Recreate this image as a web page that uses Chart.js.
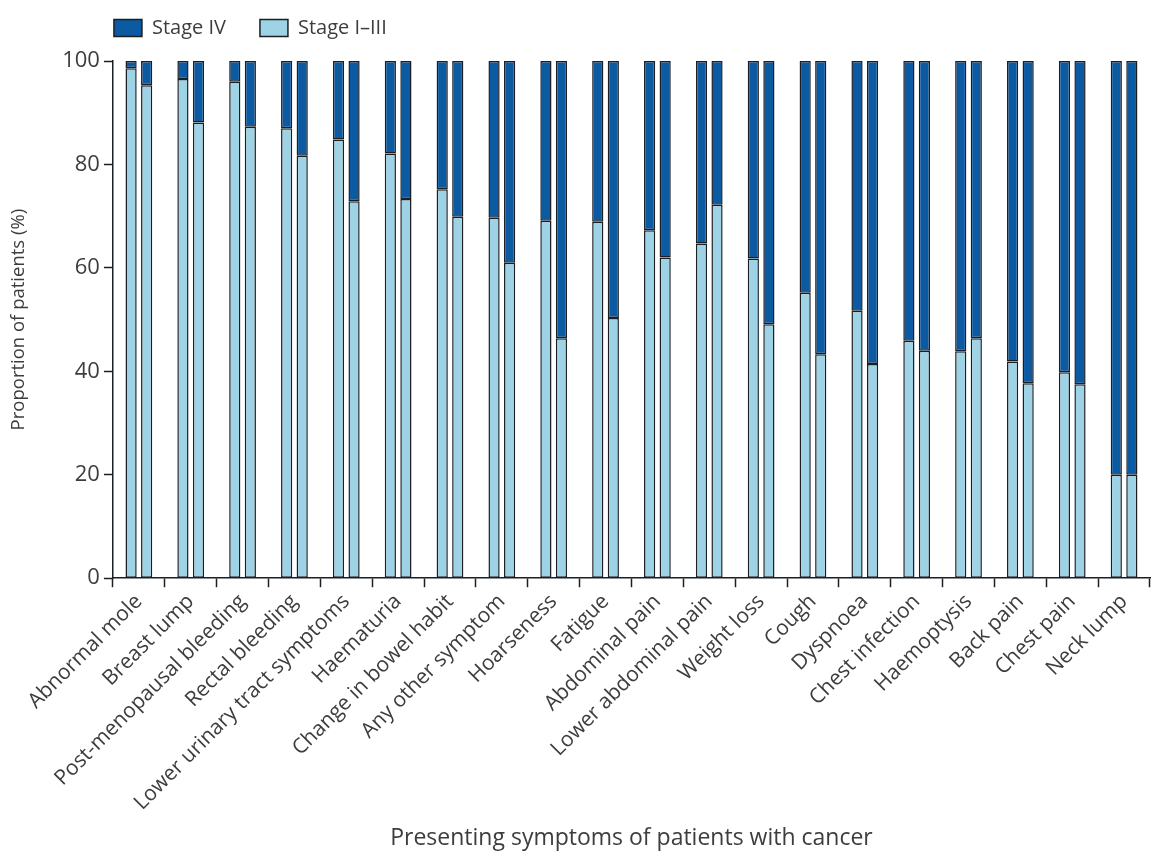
<!DOCTYPE html>
<html>
<head>
<meta charset="utf-8">
<script src="https://cdn.jsdelivr.net/npm/chart.js@4"></script>
<style>
  html, body { margin: 0; padding: 0; background: #fff; }
  #wrap { width: 1157px; height: 853px; }
</style>
</head>
<body>
<div id="wrap"><canvas id="stageChart"></canvas></div>
<script>
// Data (two bars per symptom)
const symptoms = ['Abnormal mole', 'Breast lump', 'Post-menopausal bleeding', 'Rectal bleeding',
    'Lower urinary tract symptoms', 'Haematuria', 'Change in bowel habit', 'Any other symptom',
    'Hoarseness', 'Fatigue', 'Abdominal pain', 'Lower abdominal pain', 'Weight loss', 'Cough',
    'Dyspnoea', 'Chest infection', 'Haemoptysis', 'Back pain', 'Chest pain', 'Neck lump'];

const earlyFirst = [98.6, 96.5, 96.0, 87.0, 84.8, 82.1, 75.2, 69.7, 69.1, 68.9, 67.3, 64.7, 61.8, 55.2, 51.7, 45.9, 43.9, 41.9, 39.8, 20.0];
const lateFirst  = [1.4, 3.5, 4.0, 13.0, 15.2, 17.9, 24.8, 30.3, 30.9, 31.1, 32.7, 35.3, 38.2, 44.8, 48.3, 54.1, 56.1, 58.1, 60.2, 80.0];
const earlySecond = [95.3, 88.1, 87.3, 81.7, 72.9, 73.3, 69.9, 61.0, 46.4, 50.3, 62.0, 72.2, 49.1, 43.3, 41.4, 44.0, 46.4, 37.7, 37.5, 20.0];
const lateSecond  = [4.7, 11.9, 12.7, 18.3, 27.1, 26.7, 30.1, 39.0, 53.6, 49.7, 38.0, 27.8, 50.9, 56.7, 58.6, 56.0, 53.6, 62.3, 62.5, 80.0];

const yTicks = [0, 20, 40, 60, 80, 100];

const darkBlue = '#0c5aa2';
const lightBlue = '#9ed3e5';
const edge = '#1b1f24';
const textCol = '#3d3d3d';
const fontFam = '"Open Sans", "Noto Sans", sans-serif';
const legendPad = 34;

function barSet(label, data, color, stack) {
    return {
        label, data, stack,
        backgroundColor: color,
        borderColor: edge,
        borderWidth: 1.5,
        borderSkipped: false,
        barPercentage: 0.72,
        categoryPercentage: 0.6
    };
}

// wide gap between legend items, legend kept at the top-left of the axis
const legendTweak = {
    id: 'legendTweak',
    beforeInit(chart) {
        const origFit = chart.legend.fit;
        chart.legend.fit = function () {
            origFit.call(this);
            this.height -= 11;
        };
    },
    afterLayout(chart) {
        chart.legend.left -= legendPad - 1;
        chart.legend.right -= legendPad - 1;
        chart.legend.top -= legendPad - 10;
    }
};

const ctx = document.getElementById('stageChart').getContext('2d');
new Chart(ctx, {
    type: 'bar',
    data: {
        labels: symptoms,
        datasets: [
            barSet('Stage I–III', earlyFirst, lightBlue, 'first'),
            barSet('Stage IV', lateFirst, darkBlue, 'first'),
            barSet('Stage I–III ', earlySecond, lightBlue, 'second'),
            barSet('Stage IV ', lateSecond, darkBlue, 'second')
        ]
    },
    plugins: [legendTweak],
    options: {
        responsive: true,
        maintainAspectRatio: false,
        animation: false,
        layout: { padding: { top: 8, right: 7, bottom: 1, left: 8 } },
        plugins: {
            tooltip: { enabled: false },
            legend: {
                position: 'top',
                align: 'start',
                fullSize: false,
                labels: {
                    boxWidth: 28,
                    boxHeight: 17,
                    padding: legendPad,
                    color: textCol,
                    font: { family: fontFam, size: 20 },
                    filter: item => item.datasetIndex < 2,
                    sort: (a, b) => b.datasetIndex - a.datasetIndex
                }
            }
        },
        scales: {
            x: {
                stacked: true,
                grid: { offset: true, drawOnChartArea: false, drawTicks: true, tickLength: 9, tickColor: edge, tickWidth: 1.5 },
                border: { display: true, color: edge, width: 1.5 },
                ticks: {
                    autoSkip: false,
                    minRotation: 45,
                    maxRotation: 45,
                    padding: 2,
                    color: textCol,
                    font: { family: fontFam, size: 21 }
                },
                title: {
                    display: true,
                    text: 'Presenting symptoms of patients with cancer',
                    color: textCol,
                    font: { family: fontFam, size: 23 },
                    padding: { top: 7, bottom: 0 }
                }
            },
            y: {
                stacked: true,
                min: 0,
                max: 100,
                afterBuildTicks: axis => { axis.ticks = yTicks.map(v => ({ value: v })); },
                grid: { drawOnChartArea: false, drawTicks: true, tickLength: 9, tickColor: edge, tickWidth: 1.5 },
                border: { display: true, color: edge, width: 1.5 },
                ticks: {
                    padding: 4,
                    color: textCol,
                    font: { family: fontFam, size: 22 }
                },
                title: {
                    display: true,
                    text: 'Proportion of patients (%)',
                    color: textCol,
                    font: { family: fontFam, size: 18.5 },
                    padding: { top: 0, bottom: 28 }
                }
            }
        }
    }
});
</script>
</body>
</html>
